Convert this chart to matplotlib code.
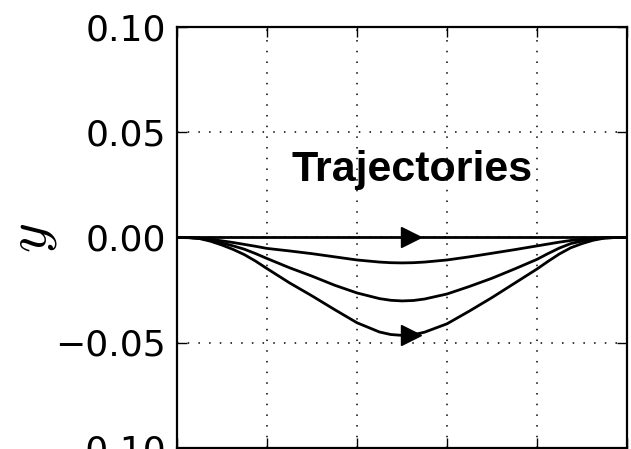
import numpy as np
import matplotlib
matplotlib.use("Agg")
import matplotlib.pyplot as plt

plt.rcParams['mathtext.fontset'] = 'cm'

# sample positions along the path
s = [0.0, 0.025, 0.05, 0.075, 0.1, 0.125, 0.15, 0.175, 0.2, 0.25, 0.3, 0.35, 0.4, 0.45, 0.475,
     0.5, 0.525, 0.55, 0.6, 0.65, 0.7, 0.75, 0.8, 0.825, 0.85, 0.875, 0.9, 0.925, 0.95, 0.975, 1.0]

# trajectories, shallow to deep
traj_0 = [0.0] * len(s)
traj_1 = [0.0, 0.0, -0.0003, -0.0009, -0.0016, -0.0024, -0.0033, -0.0042, -0.0052, -0.0064,
          -0.0077, -0.0092, -0.0107, -0.0117, -0.0120, -0.0121, -0.0120, -0.0117, -0.0107,
          -0.0092, -0.0075, -0.0058, -0.0040, -0.0031, -0.0022, -0.0014, -0.0009, -0.0004,
          -0.0001, 0.0, 0.0]
traj_2 = [0.0, 0.0, -0.0004, -0.0013, -0.0026, -0.0040, -0.0056, -0.0077, -0.0100, -0.0144,
          -0.0184, -0.0227, -0.0264, -0.0291, -0.0299, -0.0302, -0.0300, -0.0293, -0.0269,
          -0.0233, -0.0194, -0.0150, -0.0104, -0.0076, -0.0050, -0.0029, -0.0017, -0.0008,
          -0.0002, 0.0, 0.0]
traj_3 = [0.0, -0.0001, -0.0005, -0.0018, -0.0036, -0.0057, -0.0082, -0.0113, -0.0148, -0.0216,
          -0.0278, -0.0343, -0.0406, -0.0450, -0.0462, -0.0466, -0.0463, -0.0451, -0.0411,
          -0.0350, -0.0286, -0.0218, -0.0150, -0.0113, -0.0078, -0.0049, -0.0029, -0.0013,
          -0.0003, 0.0, 0.0]

# direction arrows
arrow_x = [0.52, 0.52]
arrow_y = [0.0, -0.0462]

fig = plt.figure(figsize=(6.31, 4.49), dpi=100)
ax = fig.add_axes([177 / 631, 1.5 / 449, 450 / 631, 420 / 449])

for tr in (traj_0, traj_1, traj_2, traj_3):
    ax.plot(s, tr, color='black', lw=2.0, zorder=3, solid_joinstyle='round')
ax.plot(arrow_x, arrow_y, linestyle='none', marker='>', ms=14, color='black', zorder=4)

ax.set_xlim(0, 1)
ax.set_ylim(-0.1, 0.1)
ax.set_xticks(np.arange(0, 1.01, 0.2))
ax.set_yticks([-0.1, -0.05, 0.0, 0.05, 0.1])
ax.set_yticklabels(['\u22120.10', '\u22120.05', '0.00', '0.05', '0.10'])
ax.set_xticklabels([])
ax.tick_params(direction='in', length=7, width=1, top=True, right=True,
               labelsize=26, pad=8)
ax.grid(True, color='black', linestyle=(0, (1, 6)), lw=1.1)
for sp in ax.spines.values():
    sp.set_linewidth(1.6)

ax.set_ylabel('$y$', fontsize=41, rotation=90)
ax.yaxis.set_label_coords(-0.262, 0.5)

ax.text(0.522, 0.0322, 'Trajectories', fontsize=31, fontweight='bold',
        family='Liberation Sans', ha='center', va='center')

fig.savefig('out.png', dpi=100)
